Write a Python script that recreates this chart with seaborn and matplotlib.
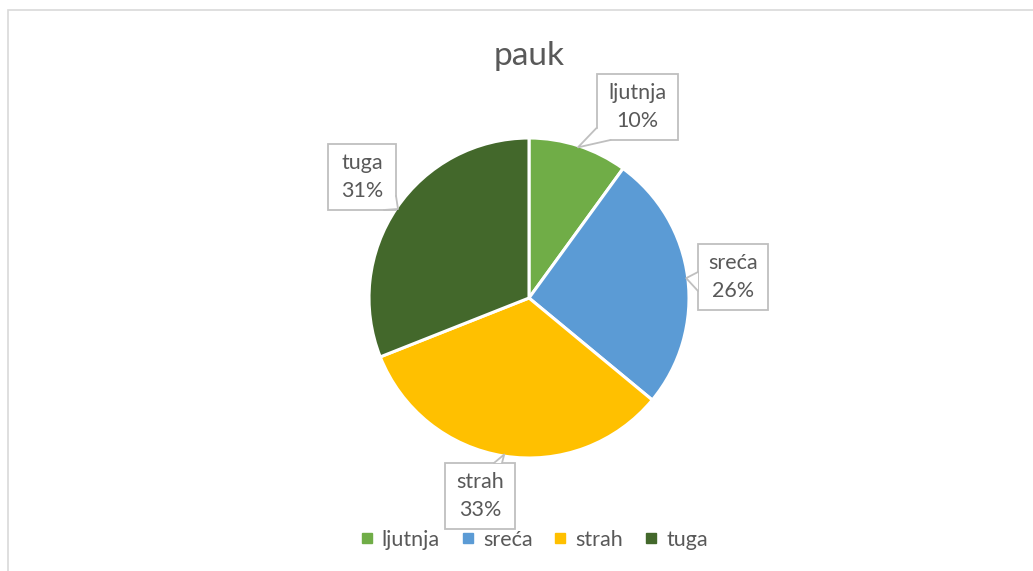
import numpy as np
import matplotlib
matplotlib.use("Agg")
import matplotlib.pyplot as plt
import seaborn as sns
from matplotlib.patches import Rectangle, Polygon
from matplotlib.lines import Line2D

# ---- data ----
categories = ["ljutnja", "sreća", "strah", "tuga"]
values = [10, 26, 33, 31]
colors = ["#70AD47", "#5B9BD5", "#FFC000", "#43682B"]
title = "pauk"

sns.set_theme(style="white")
plt.rcParams["font.family"] = ["Lato", "DejaVu Sans"]

W, H = 1033, 571
fig = plt.figure(figsize=(W / 100, H / 100), dpi=100)
fig.patch.set_facecolor("white")

# outer chart border
fig.patches.append(Rectangle((8 / W, 0 - 0.01), 1.02, 1 - 10 / H + 0.01,
                             transform=fig.transFigure, fill=False,
                             edgecolor="#D9D9D9", linewidth=1.2))

cx, cy, R = 529, 298, 160  # pie centre and radius (px)
half = 300
ax = fig.add_axes([(cx - half) / W, (H - cy - half) / H, 2 * half / W, 2 * half / H])

wedges, _ = ax.pie(values, colors=colors, startangle=90, counterclock=False,
                   radius=1.0, wedgeprops=dict(edgecolor="white", linewidth=2.2))
lim = half / R
ax.set_xlim(-lim, lim)
ax.set_ylim(-lim, lim)
ax.set_aspect("equal")
ax.axis("off")

txt_color = "#595959"
edge_color = "#BFBFBF"
px = 1.0 / R

# callout layout: box centre (px offsets from pie centre), box size (px), pointer base side
layout = {
    "ljutnja": dict(c=(108, 191), size=(81, 66), base="bl"),
    "sreća":   dict(c=(204, 21), size=(70, 66), base="l"),
    "strah":   dict(c=(-49, -198), size=(70, 66), base="t"),
    "tuga":    dict(c=(-167, 121), size=(68, 66), base="br"),
}

total = sum(values)
cum = 0
for cat, v in zip(categories, values):
    mid = 90 - (cum + v / 2) / total * 360
    cum += v
    tip = np.array([np.cos(np.radians(mid)), np.sin(np.radians(mid))]) * 0.99
    L = layout[cat]
    bx, by = L["c"][0] * px, L["c"][1] * px
    bw, bh = L["size"][0] * px, L["size"][1] * px
    x0, x1, y0, y1 = bx - bw / 2, bx + bw / 2, by - bh / 2, by + bh / 2
    ax.add_patch(Rectangle((x0, y0), bw, bh, facecolor="white",
                           edgecolor=edge_color, linewidth=1.3, zorder=5, clip_on=False))
    if L["base"] == "bl":
        b1, b2 = (x0, y0 + 12 * px), (x0 + 14 * px, y0)
    elif L["base"] == "br":
        b1, b2 = (x1, y0 + 14 * px), (x1 - 12 * px, y0)
    elif L["base"] == "l":
        b1, b2 = (x0, by + 5 * px), (x0, by - 14 * px)
    else:
        b1, b2 = (bx + 14 * px, y1), (bx + 22 * px, y1)
    ax.add_patch(Polygon([b1, tuple(tip), b2], closed=True, facecolor="white",
                         edgecolor="none", zorder=6, clip_on=False))
    ax.add_line(Line2D([b1[0], tip[0], b2[0]], [b1[1], tip[1], b2[1]],
                       color=edge_color, linewidth=1.3, zorder=7, clip_on=False))
    pct = f"{round(v / total * 100)}%"
    ax.text(bx, by, f"{cat}\n{pct}", ha="center", va="center", fontsize=15.5,
            color=txt_color, zorder=8, linespacing=1.45, clip_on=False)

fig.text(529 / W, 1 - 56 / H, title, ha="center", va="center", fontsize=24,
         color=txt_color)

handles = [Line2D([0], [0], marker="s", linestyle="none", markersize=7,
                  markerfacecolor=c, markeredgecolor=c) for c in colors]
fig.legend(handles, categories, loc="center", bbox_to_anchor=(533 / W, 1 - 540 / H),
           ncol=4, frameon=False, fontsize=15.5, handlelength=0.8,
           handletextpad=0.3, columnspacing=0.9, labelcolor=txt_color)

fig.savefig("out.png", dpi=100, facecolor="white")
